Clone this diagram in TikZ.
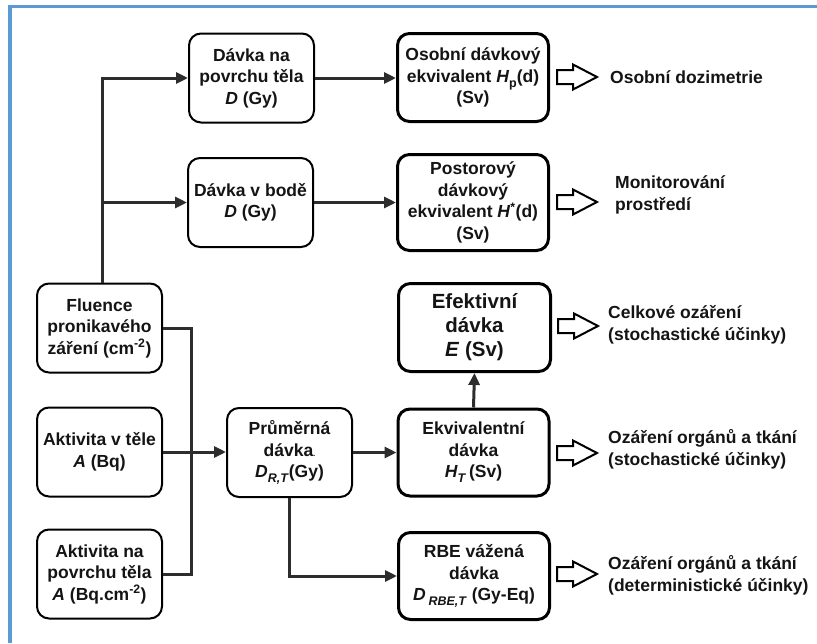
\documentclass[tikz,border=0pt]{standalone}
\usepackage{fontspec}
\setmainfont{Liberation Sans}
\usetikzlibrary{arrows.meta}
\definecolor{frameblue}{RGB}{91,155,213}
\definecolor{linegray}{RGB}{45,45,45}
\definecolor{txt}{RGB}{20,20,20}
\tikzset{
 base/.style={draw=black, rounded corners=12pt, align=center, text=txt, font=\fontsize{17.5}{21.5}\selectfont\bfseries, inner sep=0pt},
 thinbox/.style={base, line width=2pt, minimum width=125pt, minimum height=89pt},
 thickbox/.style={base, line width=3pt, minimum width=151pt, minimum height=88pt},
 conn/.style={draw=linegray, line width=3pt},
 arr/.style={conn, -{Triangle[length=12pt,width=11pt]}},
 openarr/.style={draw=black, line width=2pt, fill=white, line join=miter},
 sidelabel/.style={anchor=west, align=left, text=txt, font=\fontsize{17.5}{22}\selectfont\bfseries, inner sep=0pt}
}
\newcommand\lowsub[1]{\raisebox{-0.55ex}{\fontsize{12.5}{12.5}\selectfont #1}}
\newcommand\hollowarrow[1]{\draw[openarr] (#1) ++(0,-7) -- ++(16,0) -- ++(0,-5.5) -- ++(24,12.5) -- ++(-24,12.5) -- ++(0,-5.5) -- ++(-16,0) -- cycle;}
\begin{document}
\begin{tikzpicture}[x=1pt,y=-1pt]
\useasboundingbox (0,0) rectangle (817,643);
\draw[frameblue, line width=3.5pt] (10,643) -- (10,6.5) -- (817,6.5);

% left column
\node[thinbox] (fluence) at (99.5,328) {Fluence\\pronikavého\\záření (cm\textsuperscript{-2})};
\node[thinbox] (aktT) at (99.5,452) {Aktivita v těle\\\textit{A} (Bq)};
\node[thinbox] (aktP) at (99.5,574) {Aktivita na\\povrchu těla\\\textit{A} (Bq.cm\textsuperscript{-2})};

% second column
\node[thinbox] (povrch) at (251.5,78) {Dávka na\\povrchu těla\\\textit{D} (Gy)};
\node[thinbox] (bod) at (250.5,202.5) {Dávka v bodě\\\textit{D} (Gy)};
\node[thinbox] (prum) at (289.5,452.5) {Průměrná\\dávka{\scriptsize.}\\\textit{D}\lowsub{\textit{R,T}}(Gy)};

% third column
\node[thickbox] (hp) at (473,77.5) {Osobní dávkový\\ekvivalent \textit{H}\lowsub{p}(d)\\(Sv)};
\node[thickbox, minimum height=96pt] (post) at (473,202.5) {Postorový\\dávkový\\ekvivalent \textit{H}\textsuperscript{*}(d)\\(Sv)};
\node[thickbox, minimum width=152pt, font=\fontsize{20.5}{24}\selectfont\bfseries] (efekt) at (474.5,327.5) {Efektivní\\dávka\\\textit{E} (Sv)};
\node[thickbox, minimum height=87pt] (ekviv) at (473.5,452.5) {Ekvivalentní\\dávka\\\textit{H}\lowsub{\textit{T}}\,(Sv)};
\node[thickbox, minimum height=87pt] (rbe) at (474,576) {RBE vážená\\dávka\\\textit{D}\,\lowsub{\textit{RBE,T}} (Gy-Eq)};

% side labels
\node[sidelabel] (l1) at (610,77) {Osobní dozimetrie};
\node[sidelabel] (l2) at (615,195) {Monitorování\\prostředí};
\node[sidelabel] (l3) at (608,325) {Celkové ozáření\\(stochastické účinky)};
\node[sidelabel] (l4) at (608,449) {Ozáření orgánů a tkání\\(stochastické účinky)};
\node[sidelabel] (l5) at (608,575) {Ozáření orgánů a tkání\\(deterministické účinky)};

% connectors
\coordinate (vbus) at (102,0);
\coordinate (rbus) at (191,0);
\draw[arr] (fluence.north -| vbus) -- (vbus |- povrch.west) -- (povrch.west);
\draw[arr] (vbus |- bod.west) -- (bod.west);
\draw[arr] (povrch.east) -- (povrch.east -| hp.west);
\draw[arr] (bod.east) -- (bod.east -| post.west);
\draw[conn] (fluence.east) -- (fluence.east -| rbus) -- (rbus |- aktP.east) -- (aktP.east);
\draw[arr] (aktT.east) -- (aktT.east -| prum.west);
\draw[arr] (prum.east) -- (prum.east -| ekviv.west);
\draw[arr] (ekviv.north) -- (efekt.south);
\draw[arr] (prum.south) -- (prum.south |- rbe.west) -- (rbe.west);

% hollow arrows
\coordinate (oa1) at (557,77);
\coordinate (oa2) at (557,202);
\coordinate (oa3) at (558,326);
\coordinate (oa4) at (557,453);
\coordinate (oa5) at (557,574);
\hollowarrow{oa1}
\hollowarrow{oa2}
\hollowarrow{oa3}
\hollowarrow{oa4}
\hollowarrow{oa5}
\end{tikzpicture}
\end{document}
